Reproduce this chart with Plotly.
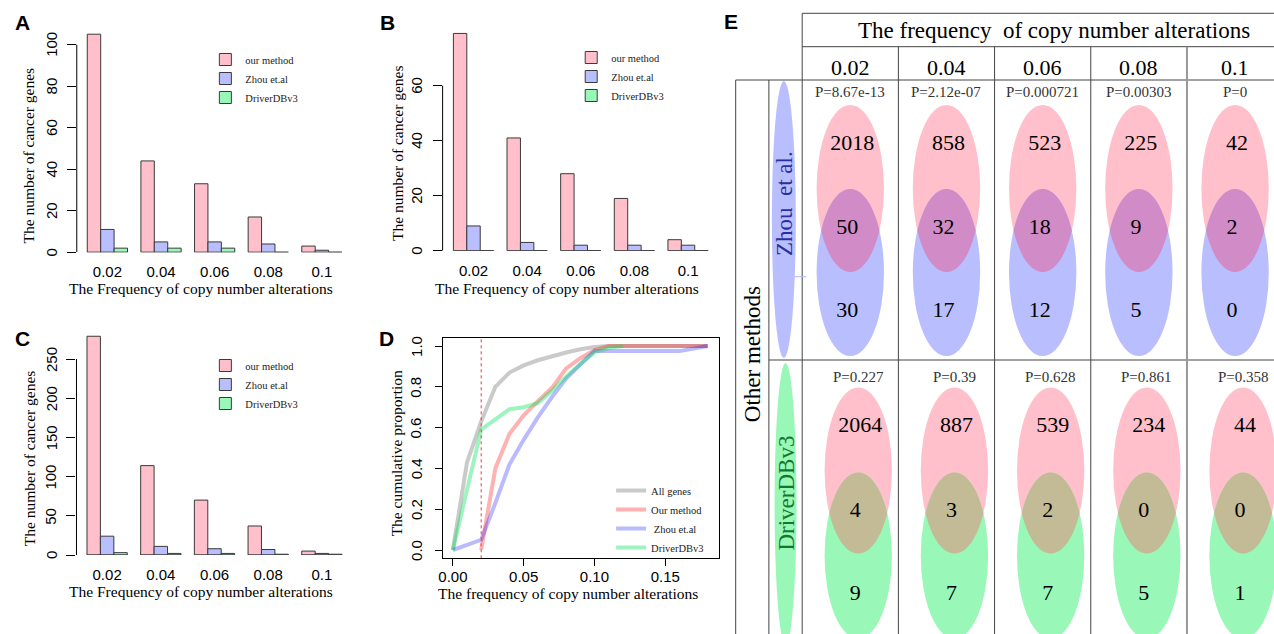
import numpy as np
import plotly.graph_objects as go

W, H = 1274, 634

# ---------------- data ----------------
freq_labels = ["0.02", "0.04", "0.06", "0.08", "0.1"]
method_names = ["our method", "Zhou et.al", "DriverDBv3"]

# Panel A
a_ours = [105, 44, 33, 17, 3]
a_zhou = [11, 5, 5, 4, 1]
a_driver = [2, 2, 2, 0, 0]
a_yticks = [0, 20, 40, 60, 80, 100]

# Panel B
b_ours = [79, 41, 28, 19, 4]
b_zhou = [9, 3, 2, 2, 2]
b_driver = [0, 0, 0, 0, 0]
b_yticks = [0, 20, 40, 60]

# Panel C
c_ours = [279, 114, 70, 37, 5]
c_zhou = [24, 11, 8, 7, 2]
c_driver = [3, 2, 2, 1, 1]
c_yticks = [0, 50, 100, 150, 200, 250]

# Panel D (cumulative proportion)
d_names = ["All genes", "Our method", " Zhou et.al", "DriverDBv3"]
d_x_all = [0.00, 0.01, 0.02, 0.03, 0.04, 0.05, 0.06, 0.07, 0.08, 0.09,
           0.10, 0.11, 0.12, 0.13, 0.14, 0.15, 0.16, 0.17, 0.18]
d_y_all = [0.00, 0.43, 0.63, 0.80, 0.87, 0.905, 0.93, 0.95, 0.968, 0.984,
           0.995, 1.0, 1.0, 1.0, 1.0, 1.0, 1.0, 1.0, 1.0]
d_x_ours = [0.02, 0.03, 0.04, 0.05, 0.06, 0.07, 0.08, 0.09, 0.10, 0.11,
            0.12, 0.13, 0.14, 0.15, 0.16, 0.17, 0.18]
d_y_ours = [0.00, 0.40, 0.57, 0.66, 0.73, 0.795, 0.89, 0.94, 0.98, 1.0,
            1.0, 1.0, 1.0, 1.0, 1.0, 1.0, 1.0]
d_x_zhou = [0.00, 0.02, 0.03, 0.04, 0.05, 0.06, 0.07, 0.08, 0.09, 0.10, 0.16, 0.18]
d_y_zhou = [0.00, 0.05, 0.23, 0.42, 0.54, 0.65, 0.75, 0.84, 0.91, 0.975, 0.975, 1.0]
d_x_drv = [0.00, 0.02, 0.03, 0.04, 0.05, 0.06, 0.07, 0.08, 0.09, 0.10, 0.11, 0.12]
d_y_drv = [0.00, 0.59, 0.64, 0.69, 0.70, 0.72, 0.78, 0.85, 0.91, 0.97, 0.99, 1.0]
d_threshold = 0.02
d_xticks = [0.00, 0.05, 0.10, 0.15]
d_yticks = [0.0, 0.2, 0.4, 0.6, 0.8, 1.0]

# Panel E (Venn table)
e_cols = ["0.02", "0.04", "0.06", "0.08", "0.1"]
e_rows = ["Zhou  et al.", "DriverDBv3"]
zhou_ours_only = [2018, 858, 523, 225, 42]
zhou_both = [50, 32, 18, 9, 2]
zhou_only = [30, 17, 12, 5, 0]
zhou_p = [8.67e-13, 2.12e-07, 0.000721, 0.00303, 0]
drv_ours_only = [2064, 887, 539, 234, 44]
drv_both = [4, 3, 2, 0, 0]
drv_only = [9, 7, 7, 5, 1]
drv_p = [0.227, 0.39, 0.628, 0.861, 0.358]

# ---------------- style ----------------
PINK = "#FFC0CB"
BLUE = "#B9BEFF"
GREEN = "#99F7B8"
BORDER = "#3a3a3a"
SERIF = "Liberation Serif"
SANS = "Liberation Sans"
bar_colors = [PINK, BLUE, GREEN]


def fx(p):
    return p / W


def fy(p):
    return 1 - p / H


fig = go.Figure()
shapes = []
annotations = []


def bar_panel(idx, series, legend_name, left, right, y0px, xrange, yrange, ppu, yticks):
    xa = "x" if idx == 1 else f"x{idx}"
    ya = "y" if idx == 1 else f"y{idx}"
    for name, vals, col in zip(method_names, series, bar_colors):
        fig.add_trace(go.Bar(
            x=freq_labels, y=vals, name=name, xaxis=xa, yaxis=ya,
            legend=legend_name,
            marker=dict(color=col, line=dict(color=BORDER, width=1)),
            hoverinfo="skip"))
    top = y0px - (yrange[1] - yrange[0]) * ppu
    xk = "xaxis" if idx == 1 else f"xaxis{idx}"
    yk = "yaxis" if idx == 1 else f"yaxis{idx}"
    fig.update_layout(**{
        xk: dict(domain=[fx(left), fx(right)], anchor=ya, type="category",
                 categoryorder="array", categoryarray=freq_labels,
                 range=xrange, showline=False, showgrid=False, zeroline=False,
                 ticks="", tickfont=dict(family=SANS, size=15, color="black"),
                 ticklabelstandoff=9),
        yk: dict(domain=[fy(y0px), fy(top)], anchor=xa, range=yrange,
                 showline=False, showgrid=False, zeroline=False,
                 tickmode="array", tickvals=yticks, showticklabels=False,
                 ticks="outside", ticklen=9, tickcolor="black", tickwidth=1),
    })
    # rotated y tick labels (R style, reading bottom-to-top)
    for t in yticks:
        annotations.append(dict(xref=f"{xa} domain", x=0, xshift=-25.5, yref=ya, y=t,
                                text=str(t), textangle=-90, showarrow=False,
                                font=dict(family=SANS, size=15, color="black"),
                                xanchor="center", yanchor="middle"))
    # y axis line spanning the tick range (R style)
    shapes.append(dict(type="line", xref=f"{xa} domain", yref=ya, x0=0, x1=0,
                       y0=yticks[0], y1=yticks[-1], line=dict(color="black", width=1)))
    # bar bottoms under each group
    for i in range(len(freq_labels)):
        shapes.append(dict(type="line", xref=xa, yref=ya, x0=i - 0.375, x1=i + 0.375,
                           y0=0, y1=0, line=dict(color=BORDER, width=1), layer="above"))


bar_panel(1, [a_ours, a_zhou, a_driver], "legend", 73, 345.8, 252.3,
          [-0.571, 4.5], [0, 110], 2.077, a_yticks)
bar_panel(2, [b_ours, b_zhou, b_driver], "legend2", 440, 713.1, 250.7,
          [-0.576, 4.5], [0, 82], 2.75, b_yticks)
bar_panel(3, [c_ours, c_zhou, c_driver], "legend3", 72.7, 345.8, 555,
          [-0.571, 4.5], [0, 285], 0.784, c_yticks)

# ---------------- panel D ----------------
d_series = [(d_x_all, d_y_all, "rgba(128,128,128,0.42)"),
            (d_x_ours, d_y_ours, "rgba(255,0,0,0.30)"),
            (d_x_zhou, d_y_zhou, "rgba(0,0,255,0.27)"),
            (d_x_drv, d_y_drv, "rgba(0,225,90,0.38)")]
for name, (xs, ys, col) in zip(d_names, d_series):
    fig.add_trace(go.Scatter(x=xs, y=ys, mode="lines", name=name,
                             line=dict(color=col, width=4),
                             xaxis="x4", yaxis="y4", legend="legend4",
                             hoverinfo="skip"))
fig.update_layout(
    xaxis4=dict(domain=[fx(440), fx(717.7)], anchor="y4", range=[-0.00725, 0.1883],
                showline=True, mirror=True, linecolor="black", linewidth=1,
                showgrid=False, zeroline=False, ticks="outside", ticklen=7,
                tickcolor="black", tickmode="array", tickvals=d_xticks,
                ticktext=[f"{v:.2f}" for v in d_xticks],
                tickfont=dict(family=SANS, size=15, color="black"),
                ticklabelstandoff=-2),
    yaxis4=dict(domain=[fy(558.3), fy(337.8)], anchor="x4", range=[-0.0407, 1.0402],
                showline=True, mirror=True, linecolor="black", linewidth=1,
                showgrid=False, zeroline=False, ticks="outside", ticklen=7,
                tickcolor="black", tickmode="array", tickvals=d_yticks,
                showticklabels=False),
)
for t in d_yticks:
    annotations.append(dict(xref="x4 domain", x=0, xshift=-26.7, yref="y4", y=t,
                            text=f"{t:.1f}", textangle=-90, showarrow=False,
                            font=dict(family=SANS, size=15, color="black"),
                            xanchor="center", yanchor="middle"))
shapes.append(dict(type="line", xref="x4", yref="y4 domain", x0=d_threshold, x1=d_threshold,
                   y0=0, y1=1, line=dict(color="#FF3030", width=1, dash="dot")))

# ---------------- legends ----------------
leg_common = dict(xanchor="left", yanchor="top", bgcolor="rgba(0,0,0,0)",
                  borderwidth=0, font=dict(family=SERIF, size=10.5, color="#222"),
                  itemwidth=30, tracegroupgap=0)
fig.update_layout(
    legend=dict(x=fx(202), y=fy(45), **leg_common),
    legend2=dict(x=fx(569), y=fy(43), **leg_common),
    legend3=dict(x=fx(202), y=fy(351), **leg_common),
    legend4=dict(x=fx(609), y=fy(476), **leg_common),
)

# ---------------- axis titles & panel letters ----------------
title_font = dict(family=SERIF, size=15.5, color="black")
for (cx, cy, txt, ang) in [
    (198, 288.3, "The Frequency of copy number alterations", 0),
    (25, 155.5, "The number of cancer genes", -90),
    (565, 288.3, "The Frequency of copy number alterations", 0),
    (395, 153.3, "The number of cancer genes", -90),
    (198, 591.7, "The Frequency of copy number alterations", 0),
    (25, 458.3, "The number of cancer genes", -90),
    (566, 593.3, "The frequency of copy number alterations", 0),
    (393.3, 453.3, "The cumulative proportion", -90),
]:
    annotations.append(dict(xref="paper", yref="paper", x=fx(cx), y=fy(cy), text=txt,
                            textangle=ang, showarrow=False, font=title_font,
                            xanchor="center", yanchor="middle"))

for (cx, cy, letter) in [(18.7, 22.3, "A"), (384.5, 23, "B"), (18.7, 338, "C"),
                         (384, 338, "D"), (729, 21, "E")]:
    annotations.append(dict(xref="paper", yref="paper", x=fx(cx), y=fy(cy), text=f"<b>{letter}</b>",
                            showarrow=False, font=dict(family=SANS, size=21, color="black"),
                            xanchor="center", yanchor="middle"))

# ---------------- panel E (table of Venn diagrams) ----------------
fig.update_layout(
    xaxis5=dict(domain=[fx(730), 1], range=[730, W], visible=False, anchor="y5",
                fixedrange=True),
    yaxis5=dict(domain=[0, 1], range=[H, 0], visible=False, anchor="x5", fixedrange=True),
)
X0, CW = 800.7, 96.5
LCOL = [734, 767.3]
Y_TOP, Y_HEAD, Y_ROW0, Y_MID, Y_BOT = 13.3, 46.7, 80, 360, H
LINE = dict(color="#444", width=1)


def e_line(x0, y0, x1, y1, line=LINE):
    shapes.append(dict(type="line", xref="x5", yref="y5", x0=x0, y0=y0, x1=x1, y1=y1,
                       line=line, layer="above"))


e_line(X0, Y_TOP, W, Y_TOP)
e_line(X0, Y_HEAD, W, Y_HEAD)
e_line(LCOL[0], Y_ROW0, W, Y_ROW0)
e_line(LCOL[1], Y_MID, W, Y_MID)
e_line(LCOL[0], Y_ROW0, LCOL[0], Y_BOT)
e_line(LCOL[1], Y_ROW0, LCOL[1], Y_BOT)
e_line(X0, Y_TOP, X0, Y_BOT)
for k in range(1, len(e_cols)):
    ln = dict(color="#999", width=2) if k == len(e_cols) - 1 else LINE
    e_line(X0 + CW * k, Y_HEAD, X0 + CW * k, Y_BOT, ln)

annotations.append(dict(xref="x5", yref="y5", x=1053, y=30,
                        text="The frequency  of copy number alterations", showarrow=False,
                        font=dict(family=SERIF, size=23, color="black"),
                        xanchor="center", yanchor="middle"))
for j, lab in enumerate(e_cols):
    annotations.append(dict(xref="x5", yref="y5", x=X0 + CW * (j + 0.5), y=67.3, text=lab,
                            showarrow=False, font=dict(family=SERIF, size=22, color="black"),
                            xanchor="center", yanchor="middle"))

# row label ellipses
shapes.append(dict(type="circle", xref="x5", yref="y5", x0=782.3 - 12, x1=782.3 + 12,
                   y0=81, y1=358, fillcolor=BLUE, line=dict(width=0), layer="below"))
shapes.append(dict(type="circle", xref="x5", yref="y5", x0=784 - 11, x1=784 + 11,
                   y0=363, y1=645, fillcolor=GREEN, line=dict(width=0), layer="below"))
e_line(793, 276.7, 805, 276.7, dict(color="#B3B8FF", width=1))
annotations.append(dict(xref="x5", yref="y5", x=783, y=203.5, text=e_rows[0], textangle=-90,
                        showarrow=False, font=dict(family=SERIF, size=23, color="#2A2FA0"),
                        xanchor="center", yanchor="middle"))
annotations.append(dict(xref="x5", yref="y5", x=784, y=493, text=e_rows[1], textangle=-90,
                        showarrow=False, font=dict(family=SERIF, size=23, color="#14782C"),
                        xanchor="center", yanchor="middle"))
annotations.append(dict(xref="x5", yref="y5", x=750.5, y=354, text="Other methods", textangle=-90,
                        showarrow=False, font=dict(family=SERIF, size=23, color="black"),
                        xanchor="center", yanchor="middle"))

RX = 33.8
row_specs = [
    dict(top_cy=188.5, bot_cy=272.5, ry=83.5, dx=0, color2=BLUE, lens="#D18CC8", py=92.3,
         a=zhou_ours_only, b=zhou_both, c=zhou_only, p=zhou_p),
    dict(top_cy=470.5, bot_cy=555.5, ry=83.0, dx=8, color2=GREEN, lens="#C3BA96", py=376.7,
         a=drv_ours_only, b=drv_both, c=drv_only, p=drv_p),
]

tx, ty, tt = [], [], []
for spec in row_specs:
    for j in range(len(e_cols)):
        cx = X0 + CW * (j + 0.5) + spec["dx"]
        c1, c2, ry = spec["top_cy"], spec["bot_cy"], spec["ry"]
        shapes.append(dict(type="circle", xref="x5", yref="y5", x0=cx - RX, x1=cx + RX,
                           y0=c1 - ry, y1=c1 + ry, fillcolor=PINK, line=dict(width=0),
                           layer="below"))
        shapes.append(dict(type="circle", xref="x5", yref="y5", x0=cx - RX, x1=cx + RX,
                           y0=c2 - ry, y1=c2 + ry, fillcolor=spec["color2"], line=dict(width=0),
                           layer="below"))
        t0 = np.arcsin((c2 - c1) / (2 * ry))
        ta = np.linspace(t0, np.pi - t0, 40)
        tb = np.linspace(np.pi - t0, t0, 40)
        px_ = np.concatenate([cx + RX * np.cos(ta), cx + RX * np.cos(tb)])
        py_ = np.concatenate([c1 + ry * np.sin(ta), c2 - ry * np.sin(tb)])
        path = "M " + " L ".join(f"{a:.2f},{b:.2f}" for a, b in zip(px_, py_)) + " Z"
        shapes.append(dict(type="path", xref="x5", yref="y5", path=path,
                           fillcolor=spec["lens"], line=dict(width=0), layer="below"))
        tx += [cx + 2, cx - 3, cx - 3]
        ty += [c1 - 44.5, (c1 + c2) / 2 - 2, c2 + 38.5]
        tt += [str(spec["a"][j]), str(spec["b"][j]), str(spec["c"][j])]
        annotations.append(dict(xref="x5", yref="y5", x=cx, y=spec["py"],
                                text=f"P={spec['p'][j]:g}", showarrow=False,
                                font=dict(family=SERIF, size=15, color="#333"),
                                xanchor="center", yanchor="middle"))

fig.add_trace(go.Scatter(x=tx, y=ty, text=tt, mode="text", xaxis="x5", yaxis="y5",
                         textfont=dict(family=SERIF, size=22, color="black"),
                         showlegend=False, hoverinfo="skip"))

fig.update_layout(
    width=W, height=H, margin=dict(l=0, r=0, t=0, b=0),
    paper_bgcolor="white", plot_bgcolor="rgba(0,0,0,0)",
    barmode="group", bargap=0.25, bargroupgap=0,
    font=dict(family=SERIF, color="black"),
    shapes=shapes, annotations=annotations, showlegend=True,
)

fig.write_html("out.html", config={"displayModeBar": False},
               post_script="document.body.style.margin='0';document.body.style.overflow='hidden';")
